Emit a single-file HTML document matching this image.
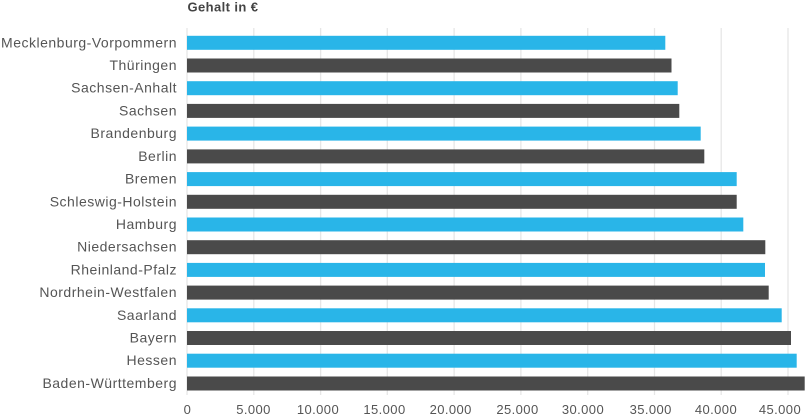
<!DOCTYPE html>
<html><head><meta charset="utf-8"><style>
html,body{margin:0;padding:0;background:#fff;}
svg{display:block;}
text{font-family:"Liberation Sans",sans-serif;}
</style></head><body>
<svg width="808" height="415" viewBox="0 0 808 415" xmlns="http://www.w3.org/2000/svg">
<rect width="808" height="415" fill="#fff"/>
<text x="187.5" y="11.5" font-size="13" font-weight="bold" fill="#444" letter-spacing="0.4">Gehalt in €</text>
<g stroke="#e6e6e6" stroke-width="1.3">
<line x1="187" y1="28" x2="187" y2="395"/>
<line x1="253.8" y1="28" x2="253.8" y2="395"/>
<line x1="320.6" y1="28" x2="320.6" y2="395"/>
<line x1="387.3" y1="28" x2="387.3" y2="395"/>
<line x1="454.1" y1="28" x2="454.1" y2="395"/>
<line x1="520.9" y1="28" x2="520.9" y2="395"/>
<line x1="587.7" y1="28" x2="587.7" y2="395"/>
<line x1="654.5" y1="28" x2="654.5" y2="395"/>
<line x1="721.2" y1="28" x2="721.2" y2="395"/>
<line x1="788" y1="28" x2="788" y2="395"/>
</g>
<g>
<rect x="187" y="35.8" width="478.3" height="14" fill="#29b5e8"/>
<rect x="187" y="58.5" width="484.5" height="14" fill="#4a4a4a"/>
<rect x="187" y="81.2" width="490.7" height="14" fill="#29b5e8"/>
<rect x="187" y="103.9" width="492.3" height="14" fill="#4a4a4a"/>
<rect x="187" y="126.6" width="513.7" height="14" fill="#29b5e8"/>
<rect x="187" y="149.4" width="517.3" height="14" fill="#4a4a4a"/>
<rect x="187" y="172.1" width="549.7" height="14" fill="#29b5e8"/>
<rect x="187" y="194.8" width="549.7" height="14" fill="#4a4a4a"/>
<rect x="187" y="217.5" width="556.3" height="14" fill="#29b5e8"/>
<rect x="187" y="240.2" width="578.3" height="14" fill="#4a4a4a"/>
<rect x="187" y="262.9" width="578" height="14" fill="#29b5e8"/>
<rect x="187" y="285.6" width="581.7" height="14" fill="#4a4a4a"/>
<rect x="187" y="308.3" width="594.7" height="14" fill="#29b5e8"/>
<rect x="187" y="331" width="604" height="14" fill="#4a4a4a"/>
<rect x="187" y="353.7" width="609.7" height="14" fill="#29b5e8"/>
<rect x="187" y="376.5" width="617.7" height="14" fill="#4a4a4a"/>
</g>
<g font-size="14" fill="#555" text-anchor="end" letter-spacing="0.5">
<text x="177" y="47.3">Mecklenburg-Vorpommern</text>
<text x="177" y="70">Thüringen</text>
<text x="177" y="92.7">Sachsen-Anhalt</text>
<text x="177" y="115.4">Sachsen</text>
<text x="177" y="138.1">Brandenburg</text>
<text x="177" y="160.9">Berlin</text>
<text x="177" y="183.6">Bremen</text>
<text x="177" y="206.3">Schleswig-Holstein</text>
<text x="177" y="229">Hamburg</text>
<text x="177" y="251.7">Niedersachsen</text>
<text x="177" y="274.4">Rheinland-Pfalz</text>
<text x="177" y="297.1">Nordrhein-Westfalen</text>
<text x="177" y="319.8">Saarland</text>
<text x="177" y="342.5">Bayern</text>
<text x="177" y="365.2">Hessen</text>
<text x="177" y="388">Baden-Württemberg</text>
</g>
<g font-size="13" fill="#555" text-anchor="middle" letter-spacing="0.4">
<text x="187.5" y="414">0</text>
<text x="253.5" y="414">5.000</text>
<text x="318" y="414">10.000</text>
<text x="384.5" y="414">15.000</text>
<text x="450.7" y="414">20.000</text>
<text x="517.5" y="414">25.000</text>
<text x="583" y="414">30.000</text>
<text x="650.7" y="414">35.000</text>
<text x="716" y="414">40.000</text>
<text x="780" y="414">45.000</text>
</g>
</svg>
</body></html>
